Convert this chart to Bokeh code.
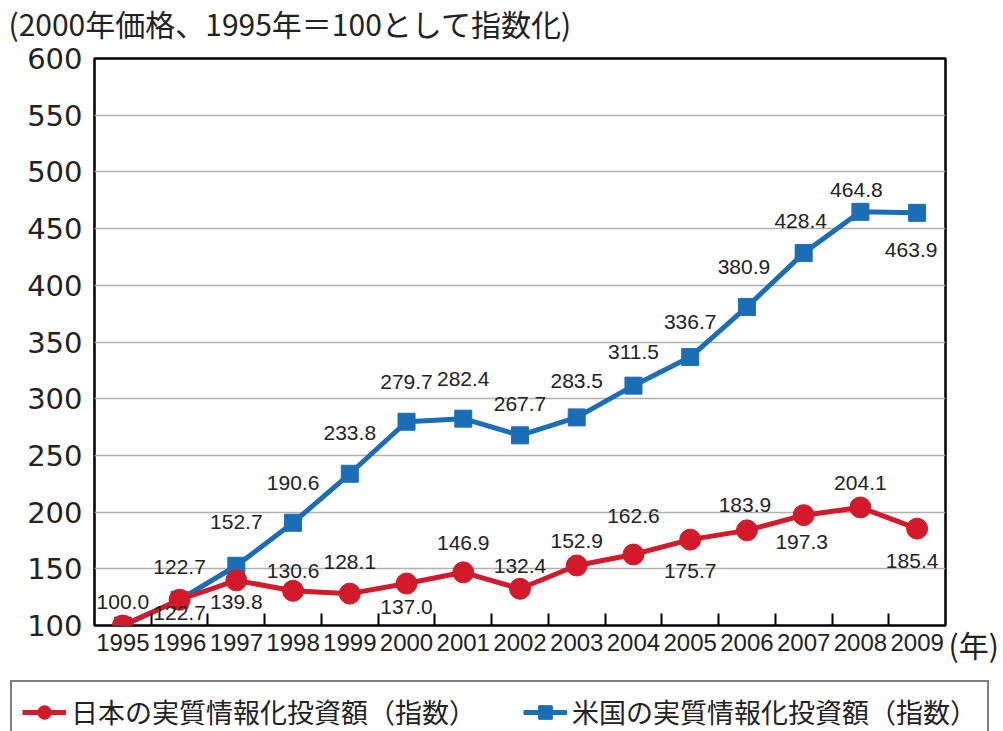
from bokeh.plotting import figure
from bokeh.layouts import column, row
from bokeh.models import (ColumnDataSource, FixedTicker, LabelSet, Label, Legend,
                          LegendItem, Range1d)
from bokeh.embed import file_html
from bokeh.resources import INLINE
from bokeh.core.properties import value

# ---------------- data ----------------
years = list(range(1995, 2010))
japan = [100.0, 122.7, 139.8, 130.6, 128.1, 137.0, 146.9, 132.4, 152.9,
         162.6, 175.7, 183.9, 197.3, 204.1, 185.4]
usa = [100.0, 122.7, 152.7, 190.6, 233.8, 279.7, 282.4, 267.7, 283.5,
       311.5, 336.7, 380.9, 428.4, 464.8, 463.9]
y_ticks = [100, 150, 200, 250, 300, 350, 400, 450, 500, 550, 600]
japan_name = "日本の実質情報化投資額（指数）"
usa_name = "米国の実質情報化投資額（指数）"
title_text = "(2000年価格、1995年＝100として指数化)"
year_unit = "(年)"

# label placement (screen px offsets, styling only)
jp_dx = [0, 0, 0, 0, 0, 0, 0, 0, 0, 0, 0, -2, -2, 0, -5]
jp_dy = [24, -13, -22, 20, 32, -23, 29, 23, 25, 39, -31, 25, -27, 24, -32]
us_dx = [0, 0, 0, 0, 0, 0, 0, 0, 0, 0, 0, -3, -3, -4, -6]
us_dy = [0, 33, 44, 40, 41, 40, 40, 31, 36, 34, 35, 40, 32, 22, -37]

RED = "#d21a2a"
BLUE = "#1b6eb6"
NUM_FONT = "Liberation Sans"
JP_FONT = "Noto Sans CJK JP"
TXT = "#222222"

jp_src = ColumnDataSource(dict(x=years, y=japan, t=[f"{v:.1f}" for v in japan],
                               dx=jp_dx, dy=jp_dy))
us_src = ColumnDataSource(dict(x=years, y=usa,
                               t=[""] + [f"{v:.1f}" for v in usa[1:]],
                               dx=us_dx, dy=us_dy))


def strip(w, h):
    f = figure(width=w, height=h, x_range=Range1d(0, 1), y_range=Range1d(0, 1),
               output_backend="svg", toolbar_location=None,
               x_axis_location=None, y_axis_location=None, min_border=0)
    f.grid.visible = False
    f.outline_line_color = None
    f.background_fill_color = "white"
    f.border_fill_color = "white"
    return f


# ---------------- title strip ----------------
tp = strip(1003, 44)
tp.add_layout(Label(x=8, y=22, x_units="screen", y_units="screen",
                    text=title_text, text_font=JP_FONT, text_font_size="30px",
                    text_color=TXT, text_baseline="middle", text_align="left"))

# ---------------- main chart ----------------
p = figure(width=948, height=620, x_range=Range1d(1994.5, 2009.5),
           y_range=Range1d(100, 600), output_backend="svg", toolbar_location=None,
           min_border_left=94, min_border_right=3, min_border_top=14,
           min_border_bottom=39)
p.title = None
p.background_fill_color = "white"
p.border_fill_color = "white"
p.outline_line_color = "black"
p.outline_line_width = 2.5

p.xaxis.ticker = FixedTicker(ticks=years, minor_ticks=[y + 0.5 for y in years[:-1]])
p.xaxis.major_tick_line_color = None
p.xaxis.major_tick_in = 0
p.xaxis.major_tick_out = 0
p.xaxis.minor_tick_line_color = "black"
p.xaxis.minor_tick_line_width = 2
p.xaxis.minor_tick_in = 12
p.xaxis.minor_tick_out = 0
p.xaxis.axis_line_color = None
p.xaxis.major_label_text_font = NUM_FONT
p.xaxis.major_label_text_font_size = "24px"
p.xaxis.major_label_text_color = TXT
p.xaxis.major_label_standoff = 8

p.yaxis.ticker = FixedTicker(ticks=y_ticks)
p.yaxis.major_tick_line_color = None
p.yaxis.minor_tick_line_color = None
p.yaxis.major_tick_in = 0
p.yaxis.major_tick_out = 0
p.yaxis.axis_line_color = None
p.yaxis.major_label_text_font = "DejaVu Sans"
p.yaxis.major_label_text_font_size = "29px"
p.yaxis.major_label_text_color = TXT
p.yaxis.major_label_standoff = 12

p.xgrid.grid_line_color = None
p.ygrid.grid_line_color = "#b0b0b0"
p.ygrid.grid_line_width = 1.5

p.line("x", "y", source=us_src, line_color=BLUE, line_width=5)
p.scatter("x", "y", source=us_src, marker="square", size=17,
          fill_color=BLUE, line_color=BLUE)
p.line("x", "y", source=jp_src, line_color=RED, line_width=5)
p.scatter("x", "y", source=jp_src, marker="circle", size=21,
          fill_color=RED, line_color=RED)

for src in (jp_src, us_src):
    p.add_layout(LabelSet(x="x", y="y", text="t", source=src,
                          x_offset="dx", y_offset="dy",
                          text_align="center", text_baseline="middle",
                          text_font=value(NUM_FONT), text_font_size="21px",
                          text_color=TXT))

# ---------------- unit strip "(年)" ----------------
up = strip(55, 620)
up.add_layout(Label(x=0, y=21, x_units="screen", y_units="screen",
                    text=year_unit, text_font=JP_FONT, text_font_size="30px",
                    text_color=TXT, text_baseline="middle", text_align="left"))

# ---------------- legend strip ----------------
lp = strip(1003, 67)
# legend glyphs reuse the series sources (they fall outside this strip's ranges)
jl = lp.line("x", "y", source=jp_src, line_color=RED, line_width=5)
js = lp.scatter("x", "y", source=jp_src, marker="circle", fill_color=RED, line_color=RED)
ul = lp.line("x", "y", source=us_src, line_color=BLUE, line_width=5)
us = lp.scatter("x", "y", source=us_src, marker="square", fill_color=BLUE, line_color=BLUE)

legend = Legend(items=[LegendItem(label=japan_name, renderers=[jl, js], index=0),
                       LegendItem(label=usa_name, renderers=[ul, us], index=0)],
                location=(10, -12), orientation="horizontal",
                border_line_color="black", border_line_width=2.5,
                padding=10, spacing=47, margin=0,
                glyph_width=44, glyph_height=34, label_standoff=5,
                label_width=400, label_height=34,
                label_text_font=JP_FONT, label_text_font_size="27px",
                label_text_color=TXT, background_fill_alpha=1)
lp.add_layout(legend)

for fig in (tp, p, up, lp):
    if "frame_align" in fig.properties():
        fig.frame_align = False

layout = column(tp, row(p, up, spacing=0), lp, spacing=0)
open("out.html", "w").write(file_html(layout, INLINE))
